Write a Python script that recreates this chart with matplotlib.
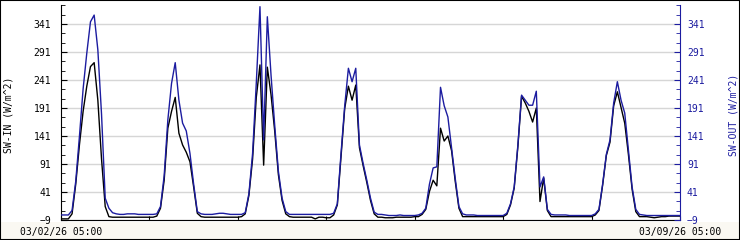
import numpy as np
import pandas as pd
import matplotlib
matplotlib.use("Agg")
import matplotlib.pyplot as plt
from matplotlib.patches import Rectangle
from matplotlib.ticker import AutoMinorLocator

# hourly values, 03/02/26 05:00 .. 03/09/26 05:00
sw_in = [
    -7, -7, -7, 2, 55, 125, 185, 230, 265, 272, 205, 100, 15, -3, -4, -4, -4, -4, -4, -4, -4, -4, -4, -4,
    -4, -4, -2, 12, 62, 155, 185, 210, 146, 125, 112, 95, 50, 3, -3, -4, -4, -4, -4, -4, -4, -4, -4, -4,
    -4, -3, 2, 35, 100, 210, 268, 89, 264, 215, 150, 72, 26, 2, -3, -4, -4, -4, -4, -4, -4, -7, -4, -4,
    -5, -5, 0, 18, 105, 190, 230, 205, 232, 120, 88, 58, 26, 2, -4, -4, -5, -5, -5, -4, -4, -4, -4, -4,
    -3, -3, 1, 10, 42, 62, 52, 155, 132, 141, 115, 60, 12, -3, -3, -3, -3, -3, -3, -3, -3, -3, -3, -3,
    -3, 1, 18, 48, 122, 212, 200, 185, 166, 191, 24, 66, 8, -3, -3, -3, -3, -3, -3, -3, -3, -3, -3, -3,
    -3, 0, 8, 53, 106, 130, 195, 220, 192, 164, 108, 46, 6, -3, -3, -3, -4, -5, -4, -3, -3, -2, -2, -2,
    -2,
]
sw_out = [
    0, 0, 0, 8, 60, 140, 225, 289, 345, 357, 295, 180, 30, 12, 4, 2, 1, 1, 2, 2, 2, 1, 1, 1,
    1, 1, 2, 15, 70, 170, 235, 272, 205, 164, 150, 110, 55, 6, 2, 1, 1, 1, 2, 3, 3, 2, 1, 1,
    1, 1, 4, 38, 110, 235, 372, 134, 354, 250, 160, 78, 30, 6, 1, 1, 1, 1, 1, 1, 1, 1, 1, 1,
    1, 1, 3, 20, 110, 195, 262, 238, 262, 125, 92, 62, 30, 5, 1, 1, 0, -1, -1, -1, 0, -1, -1, -1,
    -1, 0, 3, 12, 55, 84, 86, 228, 195, 175, 120, 65, 15, 2, 0, 0, 0, -1, -1, -1, -1, -1, -1, -1,
    -1, 3, 20, 50, 125, 214, 205, 196, 196, 221, 50, 68, 10, 1, 0, 0, 0, 0, -1, -1, -1, -1, -1, -1,
    -1, 2, 10, 55, 108, 134, 200, 238, 205, 182, 115, 50, 10, 1, 0, -1, -1, -1, -1, -1, -1, -1, -1, -1,
    -1,
]
y_ticks = [-9, 41, 91, 141, 191, 241, 291, 341]
start_label = "03/02/26 05:00"
end_label = "03/09/26 05:00"

hours = np.arange(len(sw_in))
blue = "#1c1ca0"
mono = "DejaVu Sans Mono"

fig = plt.figure(figsize=(7.4, 2.4), dpi=100)
fig.patch.set_facecolor("white")
fig.patches.append(Rectangle((0, 0), 1, 18 / 240, transform=fig.transFigure,
                             facecolor="#faf8f2", edgecolor="none", zorder=-5))
fig.patches.append(Rectangle((0, 0), 1, 1, transform=fig.transFigure,
                             fill=False, edgecolor="black", lw=1.5, zorder=10))

ax = fig.add_axes([61 / 740, 20 / 240, 619 / 740, 215 / 240])
ax.set_facecolor("white")
ax.plot(hours, sw_in, color="black", lw=1)
ax.set_xlim(0, 168)
ax.set_ylim(-9, 375)
ax.set_yticks(y_ticks)
ax.yaxis.set_minor_locator(AutoMinorLocator(3))
ax.grid(axis="y", color="#d6d6d6", lw=1)
ax.set_axisbelow(True)
ax.spines["top"].set_visible(False)
ax.spines["right"].set_visible(False)
ax.tick_params(axis="y", which="both", direction="in", labelsize=7, pad=7)
ax.tick_params(axis="y", which="major", length=4)
ax.tick_params(axis="y", which="minor", length=3)

day_ticks = np.arange(0, 169, 24)
ax.set_xticks(day_ticks)
ax.set_xticklabels([start_label] + [""] * (len(day_ticks) - 2) + [end_label])
ax.tick_params(axis="x", direction="in", length=3, labelsize=7, pad=5)
ax.set_ylabel("SW-IN (W/m^2)", fontsize=7, family=mono)
ax.yaxis.set_label_coords(-0.077, 0.49)

ax2 = ax.twinx()
ax2.plot(hours, sw_out, color=blue, lw=1)
ax2.set_ylim(-9, 375)
ax2.set_yticks(y_ticks)
ax2.yaxis.set_minor_locator(AutoMinorLocator(3))
for s in ["top", "left", "bottom"]:
    ax2.spines[s].set_visible(False)
ax2.spines["right"].set_color(blue)
ax2.tick_params(axis="y", which="both", direction="in", colors=blue, labelsize=7, pad=5)
ax2.tick_params(axis="y", which="major", length=4)
ax2.tick_params(axis="y", which="minor", length=3)
ax2.set_ylabel("SW-OUT (W/m^2)", fontsize=7, family=mono, color=blue)
ax2.yaxis.set_label_coords(1.078, 0.49)

for lab in ax.get_xticklabels() + ax.get_yticklabels() + ax2.get_yticklabels():
    lab.set_family(mono)

fig.savefig("out.png", dpi=100)
